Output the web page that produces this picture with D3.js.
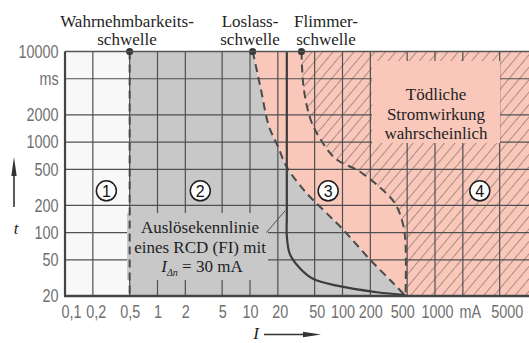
<!DOCTYPE html>
<html lang="de">
<head>
    <meta charset="UTF-8">
    <title>Wirkungsbereiche von Wechselstrom</title>
    <script src="https://cdnjs.cloudflare.com/ajax/libs/d3/7.8.5/d3.min.js"></script>
    <style>
        html, body { margin: 0; padding: 0; background: #fff; }
        svg { display: block; }
        .tick text {
            font-family: "Liberation Sans", sans-serif;
            font-size: 18px;
            fill: #707070;
        }
        .serif {
            font-family: "Liberation Serif", "DejaVu Serif", serif;
            font-size: 17px;
            fill: #1e1e1e;
        }
        .grid line { stroke: #505050; stroke-width: 1.2; }
        .dashed { fill: none; stroke: #4a4a4a; stroke-width: 2; stroke-dasharray: 8 5; }
    </style>
</head>
<body>
<div id="chart"></div>
<script>
// Achsen (Strom in mA, Zeit in ms)
const xTicks = [0.1, 0.2, 0.5, 1, 2, 5, 10, 20, 50, 100, 200, 500, 1000, 2000, 5000];
const xTickLabels = ["0,1", "0,2", "0,5", "1", "2", "5", "10", "20", "50", "100", "200", "500", "1000", "mA", "5000"];
const yTicks = [20, 50, 100, 200, 500, 1000, 2000, 5000, 10000];
const yTickLabels = ["20", "50", "100", "200", "500", "1000", "2000", "ms", "10000"];

// Schwellen: [I in mA, t in ms]
const wahrnehmbarkeit = 0.5;
const loslassCurve = [[10.7, 10000], [13, 4000], [16, 1500], [20, 900], [25, 530], [40, 280],
    [65, 170], [100, 110], [200, 50], [350, 28], [480, 20]];
const flimmerCurve = [[36, 10000], [38, 4000], [45, 1800], [57, 1100], [85, 650], [150, 480],
    [250, 320], [370, 210], [450, 125], [480, 75], [480, 20]];
// Auslösekennlinie RCD 30 mA
const rcdCurve = [[25, 10000], [25, 150], [25, 92], [27, 58], [35, 40], [48, 31], [87, 26], [236, 22], [480, 20.5]];
const rcdLeader = [[15, 100], [24, 175]];

// Bereiche 1-4
const zoneNumbers = ["1", "2", "3", "4"];
const zoneLabelCurrents = [0.28, 2.9, 70, 3050];
const zoneLabelTime = 290;

const width = 529, height = 343;
const x = d3.scaleLog().domain([0.1, 10000]).range([65, 527.5]);
const y = d3.scaleLog().domain([20, 10000]).range([296, 51.5]);
const xLeft = x(0.1), xRight = width, yTop = y(10000), yBottom = y(20);
const narrow = "scale(0.8,1)"; // schmale Achsenschrift
// kleine Verschiebungen der x-Beschriftung, damit nichts zusammenläuft
const xLabelShift = [-4, 3, 0, 0, 0, 0, 0, 2, 2, 0, 0, -5, 2, 7, 7];

const svg = d3.select("#chart").append("svg")
    .attr("width", width)
    .attr("height", height);

const defs = svg.append("defs");
const hatch = defs.append("pattern")
    .attr("id", "hatch")
    .attr("patternUnits", "userSpaceOnUse")
    .attr("width", 8)
    .attr("height", 8)
    .attr("patternTransform", "rotate(40)");
hatch.append("line")
    .attr("x1", 0).attr("y1", 0).attr("x2", 0).attr("y2", 8)
    .attr("stroke", "#6b5a56")
    .attr("stroke-width", 1.1);

const curve = d3.line()
    .x(d => x(d[0]))
    .y(d => y(d[1]))
    .curve(d3.curveCatmullRom.alpha(0.5));

// Flächen
svg.append("rect")
    .attr("x", xLeft).attr("y", yTop)
    .attr("width", x(wahrnehmbarkeit) - xLeft).attr("height", yBottom - yTop)
    .attr("fill", "#f8f8f9");

svg.append("path")
    .attr("d", `M${x(wahrnehmbarkeit)},${yBottom}L${x(wahrnehmbarkeit)},${yTop}L` + curve(loslassCurve).slice(1) + "Z")
    .attr("fill", "#c8c8c8");

svg.append("path")
    .attr("d", curve(loslassCurve) + `L${xRight},${yBottom}L${xRight},${yTop}Z`)
    .attr("fill", "#f9c8bb");

svg.append("path")
    .attr("d", curve(flimmerCurve) + `L${xRight},${yBottom}L${xRight},${yTop}Z`)
    .attr("fill", "url(#hatch)");

// Gitter
const grid = svg.append("g").attr("class", "grid");
grid.selectAll(".vx")
    .data(xTicks.slice(1))
    .enter().append("line")
    .attr("x1", d => x(d)).attr("x2", d => x(d))
    .attr("y1", yTop).attr("y2", yBottom);
grid.selectAll(".hy")
    .data(yTicks.slice(1))
    .enter().append("line")
    .attr("x1", xLeft).attr("x2", xRight)
    .attr("y1", d => y(d)).attr("y2", d => y(d));

// Textfelder verdecken das Gitter
svg.append("rect")
    .attr("x", 127).attr("y", 213).attr("width", 141).attr("height", 67)
    .attr("fill", "#c8c8c8");
svg.append("rect")
    .attr("x", 372).attr("y", 61).attr("width", 128).attr("height", 82)
    .attr("fill", "#f9c8bb");

// Schwellenlinien
svg.append("line")
    .attr("class", "dashed")
    .attr("x1", x(wahrnehmbarkeit)).attr("x2", x(wahrnehmbarkeit))
    .attr("y1", yTop).attr("y2", yBottom);
svg.append("path").attr("class", "dashed").attr("d", curve(loslassCurve));
svg.append("path").attr("class", "dashed").attr("d", curve(flimmerCurve));

svg.append("path")
    .attr("d", curve(rcdCurve))
    .attr("fill", "none")
    .attr("stroke", "#3c3c3c")
    .attr("stroke-width", 2.2);
svg.append("path")
    .attr("d", d3.line().x(d => x(d[0])).y(d => y(d[1]))(rcdLeader))
    .attr("fill", "none")
    .attr("stroke", "#505050")
    .attr("stroke-width", 1);

svg.selectAll(".dot")
    .data([wahrnehmbarkeit, loslassCurve[0][0], flimmerCurve[0][0]])
    .enter().append("circle")
    .attr("cx", d => x(d)).attr("cy", yTop).attr("r", 3.6)
    .attr("fill", "#333");

// Rahmen
svg.append("line").attr("x1", xLeft).attr("x2", xRight).attr("y1", yTop).attr("y2", yTop)
    .attr("stroke", "#555").attr("stroke-width", 1.5);
svg.append("line").attr("x1", xLeft).attr("x2", xLeft).attr("y1", yTop).attr("y2", yBottom)
    .attr("stroke", "#444").attr("stroke-width", 2.2);
svg.append("line").attr("x1", xLeft - 1).attr("x2", xRight).attr("y1", yBottom).attr("y2", yBottom)
    .attr("stroke", "#444").attr("stroke-width", 2.6);

// Achsenbeschriftung
const xAxis = svg.append("g")
    .attr("transform", `translate(0,${yBottom})`)
    .call(d3.axisBottom(x).tickValues(xTicks).tickFormat((d, i) => xTickLabels[i]).tickSize(0).tickPadding(9));
xAxis.select(".domain").remove();
xAxis.selectAll(".tick text")
    .attr("transform", (d, i) => `translate(${xLabelShift[i]},0) ${narrow}`)
    .attr("text-anchor", (d, i) => i === 0 ? "start" : "middle");

const yAxis = svg.append("g")
    .attr("transform", `translate(${xLeft},0)`)
    .call(d3.axisLeft(y).tickValues(yTicks).tickFormat((d, i) => yTickLabels[i]).tickSize(0).tickPadding(8));
yAxis.select(".domain").remove();
yAxis.selectAll(".tick text").attr("transform", narrow);

// Bereichsnummern
const zones = svg.selectAll(".zone")
    .data(zoneNumbers)
    .enter().append("g")
    .attr("transform", (d, i) => `translate(${x(zoneLabelCurrents[i])},${y(zoneLabelTime)})`);
zones.append("circle")
    .attr("r", 10)
    .attr("fill", "#fdfdfd")
    .attr("stroke", "#1e1e1e")
    .attr("stroke-width", 1.5);
zones.append("text")
    .attr("text-anchor", "middle")
    .attr("dy", "0.36em")
    .style("font-family", "'Liberation Sans', sans-serif")
    .style("font-size", "16px")
    .attr("fill", "#111")
    .text(d => d);

// Überschriften der Schwellen
function label(lines, cx, y0, step) {
    const t = svg.append("text").attr("class", "serif").attr("text-anchor", "middle");
    lines.forEach((s, i) => {
        t.append("tspan").attr("x", cx).attr("y", y0 + i * step).text(s);
    });
    return t;
}
label(["Wahrnehmbarkeits-", "schwelle"], 127, 27, 18);
label(["Loslass-", "schwelle"], 250, 27, 18);
label(["Flimmer-", "schwelle"], 326, 27, 18);
label(["Tödliche", "Stromwirkung", "wahrscheinlich"], 436, 100, 19.5);

label(["Auslösekennlinie", "eines RCD (FI) mit"], 200, 233, 19.5);
const iLine = svg.append("text").attr("class", "serif").attr("text-anchor", "middle")
    .attr("x", 202).attr("y", 272);
iLine.append("tspan").style("font-style", "italic").text("I");
iLine.append("tspan").attr("dy", 4).style("font-size", "10px").style("font-style", "italic").text("Δn");
iLine.append("tspan").attr("dy", -4).text(" = 30 mA");

// Achsentitel mit Pfeilen
svg.append("line").attr("x1", 14).attr("x2", 14).attr("y1", 207).attr("y2", 172)
    .attr("stroke", "#333").attr("stroke-width", 1.6);
svg.append("path").attr("d", "M11.3,176L14,157L16.7,176Z").attr("fill", "#333");
svg.append("text").attr("class", "serif").attr("x", 16).attr("y", 234)
    .attr("text-anchor", "middle").style("font-style", "italic").text("t");

svg.append("text").attr("class", "serif").attr("x", 256).attr("y", 339)
    .attr("text-anchor", "middle").style("font-style", "italic").text("I");
svg.append("line").attr("x1", 264).attr("x2", 306).attr("y1", 334.5).attr("y2", 334.5)
    .attr("stroke", "#333").attr("stroke-width", 1.6);
svg.append("path").attr("d", "M303,331.8L321,334.5L303,337.2Z").attr("fill", "#333");
</script>
</body>
</html>
